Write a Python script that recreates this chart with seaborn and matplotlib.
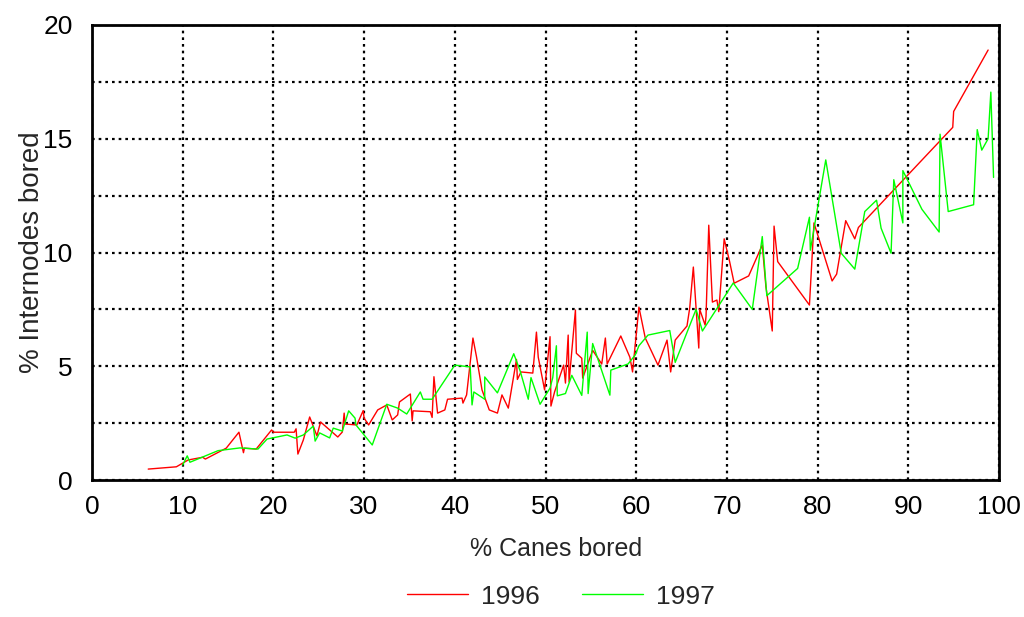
import matplotlib
matplotlib.use("Agg")
import matplotlib.pyplot as plt
import seaborn as sns
import pandas as pd
from matplotlib.ticker import MultipleLocator

x_1996 = [6.2, 9.3, 10.6, 12.2, 12.5, 14.8, 16.2, 16.7, 16.8, 18.1, 19.8, 20.0, 22.3, 22.5, 22.7,
          23.3, 24.0, 24.8, 25.2, 27.1, 27.6, 27.8, 27.9, 29.2, 29.9, 30.0, 30.5, 31.5, 32.5, 33.1,
          33.7, 33.9, 35.1, 35.3, 35.4, 37.3, 37.5, 37.7, 38.1, 38.9, 39.2, 40.8, 40.9, 41.3, 42.0,
          42.4, 43.0, 43.8, 44.7, 45.2, 45.9, 46.8, 46.9, 47.3, 48.6, 49.0, 49.2, 49.9, 50.5, 50.6,
          51.0, 52.0, 52.2, 52.5, 52.6, 53.3, 53.4, 54.0, 54.1, 55.2, 56.2, 56.6, 56.8, 58.3, 59.3,
          59.6, 60.3, 61.0, 62.4, 63.4, 63.8, 64.3, 65.6, 65.9, 66.3, 66.6, 66.9, 67.0, 67.6, 67.7,
          68.0, 68.4, 68.9, 69.1, 69.7, 70.3, 70.8, 72.4, 73.9, 74.3, 75.0, 75.2, 75.6, 79.1, 79.6,
          81.6, 82.1, 83.1, 84.1, 84.5, 94.9, 95.0, 98.8]
y_1996 = [0.48, 0.58, 0.88, 1.0, 0.92, 1.4, 2.1, 1.2, 1.4, 1.36, 2.2, 2.1, 2.1, 2.25, 1.14,
          1.76, 2.77, 1.94, 2.55, 1.89, 2.11, 2.94, 2.46, 2.42, 3.05, 2.72, 2.42, 3.08, 3.3, 2.64,
          2.86, 3.43, 3.78, 2.6, 3.04, 3.0, 2.75, 4.54, 2.94, 3.08, 3.55, 3.6, 3.38, 3.74, 6.24,
          5.4, 3.96, 3.08, 2.94, 3.74, 3.16, 5.3, 4.42, 4.75, 4.7, 6.5, 5.4, 3.96, 6.3, 3.25,
          3.87, 5.05, 4.26, 6.37, 4.31, 7.47, 5.57, 5.35, 4.48, 5.7, 5.1, 6.24, 5.1, 6.33, 5.4,
          4.75, 7.6, 6.24, 5.05, 6.15, 4.75, 6.15, 6.77, 7.56, 9.36, 7.56, 5.8, 7.5, 6.81, 7.2,
          11.2, 7.82, 7.91, 7.4, 10.6, 9.6, 8.65, 8.97, 10.33, 8.5, 6.55, 11.16, 9.6, 7.69, 11.3,
          8.75, 9.05, 11.4, 10.6, 11.1, 15.5, 16.2, 18.9]

x_1997 = [10.0, 10.5, 10.8, 13.9, 16.3, 18.3, 19.3, 21.5, 22.4, 23.3, 24.4, 24.6, 25.1, 26.2,
          26.6, 27.6, 28.3, 29.0, 29.1, 30.9, 32.5, 33.7, 34.7, 36.2, 36.5, 37.5, 40.0, 41.7,
          41.9, 42.1, 43.3, 43.3, 44.7, 46.5, 47.2, 48.1, 48.4, 49.4, 50.5, 50.8, 51.2, 51.3,
          52.2, 52.9, 54.0, 54.6, 54.7, 55.2, 57.1, 57.2, 59.1, 59.9, 60.3, 61.3, 63.7, 64.3,
          66.6, 67.3, 69.0, 70.7, 72.8, 73.9, 74.4, 77.8, 79.1, 79.2, 80.9, 82.6, 84.1, 85.2,
          86.5, 87.0, 88.1, 88.4, 89.4, 89.4, 91.5, 93.4, 93.5, 94.4, 97.2, 97.6, 98.1, 98.8,
          99.1, 99.4]
y_1997 = [0.66, 1.06, 0.78, 1.29, 1.41, 1.36, 1.8, 1.98, 1.84, 1.98, 2.37, 1.71, 2.07, 1.85,
          2.28, 2.15, 3.04, 2.72, 2.42, 1.54, 3.33, 3.16, 2.9, 3.87, 3.55, 3.55, 5.05, 4.97,
          3.3, 3.87, 3.55, 4.53, 3.83, 5.55, 4.8, 3.55, 4.5, 3.33, 4.04, 4.5, 5.9, 3.7,
          3.8, 4.6, 3.72, 6.5, 3.8, 6.0, 3.73, 4.83, 5.1, 5.5, 5.9, 6.37, 6.57, 5.17,
          7.5, 6.55, 7.6, 8.66, 7.5, 10.7, 8.1, 9.3, 11.55, 10.1, 14.07, 9.97, 9.27, 11.8,
          12.3, 11.07, 9.97, 13.2, 11.3, 13.6, 11.9, 10.9, 15.2, 11.8, 12.1, 15.4, 14.5, 15.0,
          17.05, 13.3]

series = ["1996", "1997"]
colors = ["#ff0000", "#00ff00"]

x_label = "% Canes bored"
y_label = "% Internodes bored"

sns.set_style("white")
plt.rcParams['font.family'] = ['Liberation Sans', 'DejaVu Sans']

fig = plt.figure(figsize=(10.24, 6.17), dpi=100)
ax = fig.add_axes([92/1024, 1 - 480/617, (999 - 92)/1024, (480 - 25)/617])

df96 = pd.DataFrame({"x": x_1996, "y": y_1996})
df97 = pd.DataFrame({"x": x_1997, "y": y_1997})
sns.lineplot(data=df96, x="x", y="y", sort=False, estimator=None, color=colors[0],
             linewidth=1.0, ax=ax, label=series[0])
sns.lineplot(data=df97, x="x", y="y", sort=False, estimator=None, color=colors[1],
             linewidth=1.0, ax=ax, label=series[1])

ax.set_xlim(0, 100)
ax.set_ylim(0, 20)
ax.xaxis.set_major_locator(MultipleLocator(10))
ax.yaxis.set_major_locator(MultipleLocator(5))
ax.yaxis.set_minor_locator(MultipleLocator(2.5))
ax.grid(True, which="both", color="black", linestyle=(0, (1.2, 1.8)), linewidth=1.6)
ax.set_axisbelow(True)
for s in ax.spines.values():
    s.set_color("black")
    s.set_linewidth(2.0)
ax.tick_params(axis="both", which="both", length=0, labelsize=19, colors="black")
ax.tick_params(axis="x", pad=11)
ax.tick_params(axis="y", pad=14)
ax.set_xlabel(x_label, fontsize=18)
ax.set_ylabel(y_label, fontsize=20, labelpad=-1)
ax.xaxis.set_label_coords(0.512, -0.125)

leg = ax.get_legend()
handles, labels = ax.get_legend_handles_labels()
leg.remove()
fig.legend(handles, labels, loc="lower center", bbox_to_anchor=(0.548, -0.025), ncol=2,
           frameon=False, fontsize=19, handlelength=2.3, columnspacing=1.6, handletextpad=0.5)

fig.savefig("out.png", dpi=100)
